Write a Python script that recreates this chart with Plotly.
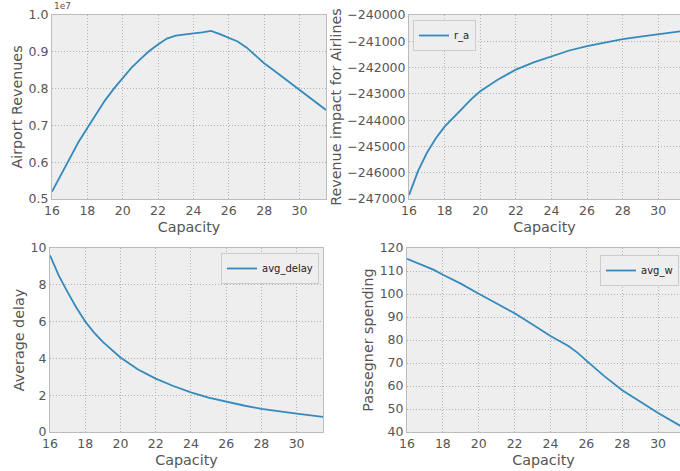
import plotly.graph_objects as go

# ---- data ----
cap_rA = [16, 16.5, 17, 17.5, 18, 18.5, 19, 19.5, 20, 20.5, 21, 21.5, 22, 22.5, 23, 23.5, 24, 24.5, 25,
          25.5, 26, 26.5, 27, 27.5, 28, 28.5, 29, 29.5, 30, 30.5, 31, 31.5]
r_A = [5.2e6, 5.65e6, 6.1e6, 6.55e6, 6.93e6, 7.32e6, 7.68e6, 8.0e6, 8.3e6, 8.57e6, 8.8e6, 9.02e6, 9.2e6,
       9.36e6, 9.44e6, 9.48e6, 9.5e6, 9.53e6, 9.57e6, 9.48e6, 9.39e6, 9.28e6, 9.12e6, 8.9e6, 8.69e6,
       8.51e6, 8.33e6, 8.15e6, 7.98e6, 7.8e6, 7.62e6, 7.42e6]

cap_ra = [16, 16.5, 17, 17.5, 18, 18.5, 19, 19.5, 20, 21, 22, 23, 24, 25, 26, 27, 28, 29, 30, 31.5]
r_a = [-246850, -245950, -245250, -244700, -244250, -243880, -243550, -243200, -242900, -242450,
       -242080, -241800, -241560, -241350, -241180, -241040, -240920, -240820, -240730, -240600]

cap_d = [16, 16.5, 17, 17.5, 18, 18.5, 19, 19.5, 20, 21, 22, 23, 24, 25, 26, 27, 28, 29, 30, 31.5]
avg_delay = [9.6, 8.5, 7.6, 6.75, 6.0, 5.4, 4.9, 4.45, 4.05, 3.4, 2.9, 2.5, 2.15, 1.87, 1.64, 1.44,
             1.26, 1.12, 1.0, 0.82]

cap_w = [16, 17, 17.5, 18, 19, 20, 21, 22, 23, 24, 25, 25.5, 26, 27, 28, 29, 30, 31.5]
avg_w = [115.3, 112.0, 110.5, 108.4, 104.5, 100.1, 96.0, 91.6, 86.7, 81.7, 77.4, 74.5, 71.0, 64.3,
         58.2, 53.1, 48.3, 41.5]

rA_ticks = [5e6, 6e6, 7e6, 8e6, 9e6, 1e7]
rA_ticktext = ["0.5", "0.6", "0.7", "0.8", "0.9", "1.0"]

LINE = "#348ABD"
BG = "#EEEEEE"
GRID = "#b2b2b2"
EDGE = "#bcbcbc"
TXT = "#555555"

W, H = 680, 471

def px2x(p):
    return p / W

def px2y(p):
    return 1 - p / H

fig = go.Figure()

panels = [
    ("x", "y", cap_rA, r_A, "r_A", (52, 326), (15, 199), [16, 31.5], [5e6, 1e7], "Airport Revenues", "legend"),
    ("x2", "y2", cap_ra, r_a, "r_a", (409, 680), (15, 199), [16, 31.22], [-247000, -240000],
     "Revenue impact for Airlines", "legend2"),
    ("x3", "y3", cap_d, avg_delay, "avg_delay", (50, 323), (248, 432), [16, 31.5], [0, 10], "Average delay", "legend3"),
    ("x4", "y4", cap_w, avg_w, "avg_w", (407, 680), (248, 432), [16, 31.22], [40, 120], "Passegner spending", "legend4"),
]

TICK = 12.5
TITLE = 14.3

layout = dict(
    width=W, height=H, margin=dict(l=0, r=0, t=0, b=0, autoexpand=False),
    paper_bgcolor="white", plot_bgcolor=BG,
    font=dict(family="DejaVu Sans", color=TXT, size=TICK),
)

for i, (xa, ya, xs, ys, name, xd, yd, xr, yr, ytitle, leg) in enumerate(panels):
    fig.add_trace(go.Scatter(x=xs, y=ys, mode="lines", name=name, xaxis=xa, yaxis=ya,
                             line=dict(color=LINE, width=1.8), legend=leg))
    xkey = "xaxis" if xa == "x" else "xaxis" + xa[1:]
    ykey = "yaxis" if ya == "y" else "yaxis" + ya[1:]
    xaxis = dict(domain=[px2x(xd[0]), px2x(xd[1])], range=xr, anchor=ya, automargin=False,
                 tickvals=[16, 18, 20, 22, 24, 26, 28, 30],
                 showgrid=True, gridcolor=GRID, griddash="1px,2px", gridwidth=1,
                 showline=True, linecolor=EDGE, mirror=True, linewidth=1,
                 zeroline=False, ticks="", tickfont=dict(size=TICK, color=TXT),
                 title=dict(text="Capacity", font=dict(size=TITLE, color=TXT), standoff=4))
    yaxis = dict(domain=[px2y(yd[1]), px2y(yd[0])], range=yr, anchor=xa, automargin=False,
                 showgrid=True, gridcolor=GRID, griddash="1px,2px", gridwidth=1,
                 showline=True, linecolor=EDGE, mirror=True, linewidth=1,
                 zeroline=False, ticks="", tickfont=dict(size=TICK, color=TXT),
                 title=dict(text=ytitle, font=dict(size=TITLE, color=TXT), standoff=2))
    if i == 0:
        yaxis.update(tickvals=rA_ticks, ticktext=rA_ticktext)
    elif i == 1:
        yaxis.update(dtick=1000, tickformat="d")
    elif i == 2:
        yaxis.update(dtick=2)
    else:
        yaxis.update(dtick=10)
    layout[xkey] = xaxis
    layout[ykey] = yaxis

legstyle = dict(bgcolor=BG, bordercolor="#cccccc", borderwidth=1,
                font=dict(size=10, color="#222222"), yanchor="top", itemwidth=30)
layout["legend"] = dict(x=px2x(322), y=px2y(21), xanchor="right", **legstyle)
layout["legend2"] = dict(x=px2x(413), y=px2y(20), xanchor="left", **legstyle)
layout["legend3"] = dict(x=px2x(319), y=px2y(253), xanchor="right", **legstyle)
layout["legend4"] = dict(x=px2x(679), y=px2y(255), xanchor="right", **legstyle)

layout["annotations"] = [dict(text="1e7", x=px2x(52), y=px2y(13), xref="paper", yref="paper",
                              xanchor="left", yanchor="bottom", showarrow=False,
                              font=dict(size=9, color=TXT))]

fig.update_layout(**layout)
fig.write_html("out.html", config={"displayModeBar": False},
               post_script="document.body.style.margin='0px';document.body.style.overflow='hidden';")
